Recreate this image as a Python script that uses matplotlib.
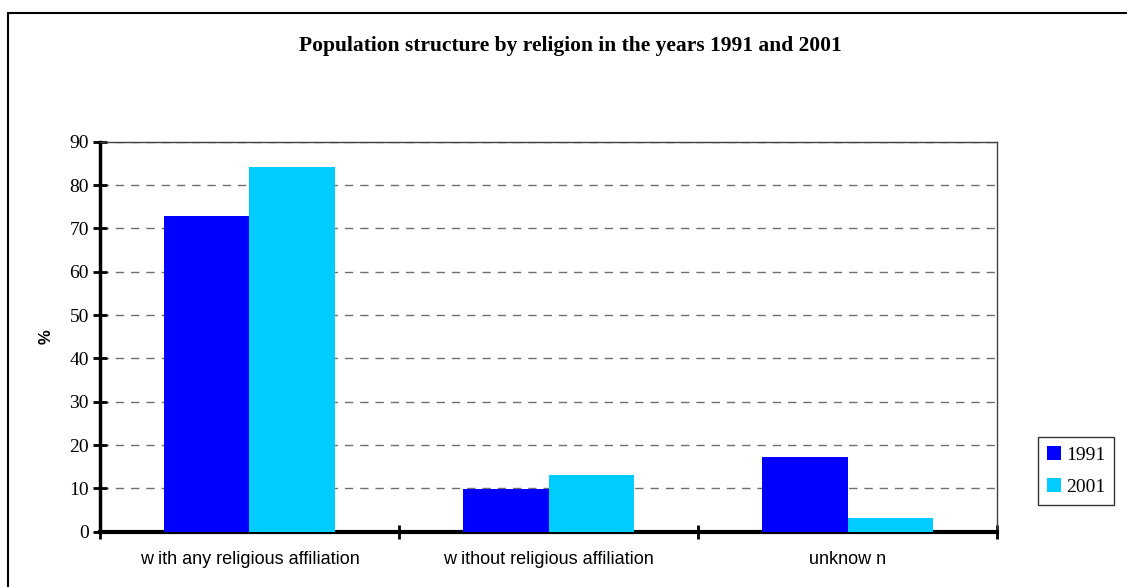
import numpy as np
import matplotlib.pyplot as plt
from matplotlib.patches import Rectangle

# data
categories = ["w ith any religious affiliation", "w ithout religious affiliation", "unknow n"]
years = ["1991", "2001"]
values_1991 = [72.8, 9.8, 17.3]
values_2001 = [84.1, 13.1, 3.1]
y_ticks = list(range(0, 91, 10))

fig = plt.figure(figsize=(11.27, 5.87), dpi=100)
ax = fig.add_axes([0.0887, 0.0942, 0.7960, 0.6644])

# outer frame of the chart
fig.patches.append(Rectangle((8 / 1127, -0.1), 1.2, 1 - 13 / 587 + 0.1, transform=fig.transFigure,
                             fill=False, edgecolor="black", linewidth=1.5))

x = np.arange(len(categories))
w = 0.286
ax.bar(x - w / 2, values_1991, w, color="#0000FF", label=years[0], zorder=3)
ax.bar(x + w / 2, values_2001, w, color="#00CCFF", label=years[1], zorder=3)

ax.set_xlim(-0.5, len(categories) - 0.5)
ax.set_ylim(0, 90)
ax.set_yticks(y_ticks)
ax.set_yticklabels([str(t) for t in y_ticks], fontfamily="Liberation Serif", fontsize=14)

# ticks at category boundaries, labels at centres
ax.set_xticks(np.arange(-0.5, len(categories), 1.0))
ax.set_xticklabels([])
ax.set_xticks(x, minor=True)
ax.set_xticklabels(categories, minor=True, fontfamily="Liberation Sans", fontsize=13)
ax.tick_params(axis="x", which="minor", length=0, pad=14)
ax.tick_params(axis="x", which="major", direction="inout", length=10, width=2)
ax.tick_params(axis="y", direction="inout", length=10, width=2, pad=3)

ax.yaxis.grid(True, linestyle=(0, (6, 5)), color="#707070", linewidth=1, zorder=0)
ax.set_axisbelow(True)

ax.spines["left"].set_linewidth(2.5)
ax.spines["bottom"].set_linewidth(3)
ax.spines["top"].set_linewidth(1)
ax.spines["right"].set_linewidth(1)
ax.spines["top"].set_color("#404040")
ax.spines["right"].set_color("#404040")

ax.set_ylabel("%", fontfamily="Liberation Sans", fontweight="bold", fontsize=12, labelpad=11)

fig.text(0.506, 1 - 46 / 587, "Population structure by religion in the years 1991 and 2001",
         ha="center", va="center", fontfamily="Liberation Serif", fontweight="bold", fontsize=15.5)

leg = ax.legend(loc="upper left", bbox_to_anchor=(1038 / 1127, 1 - 437 / 587),
                bbox_transform=fig.transFigure, frameon=True, fancybox=False,
                prop={"family": "Liberation Serif", "size": 14},
                handlelength=0.75, handleheight=0.75, handletextpad=0.25,
                labelspacing=0.75, borderpad=0.45, borderaxespad=0)
leg.get_frame().set_edgecolor("black")
leg.get_frame().set_linewidth(1)

fig.savefig("out.png", dpi=100)
